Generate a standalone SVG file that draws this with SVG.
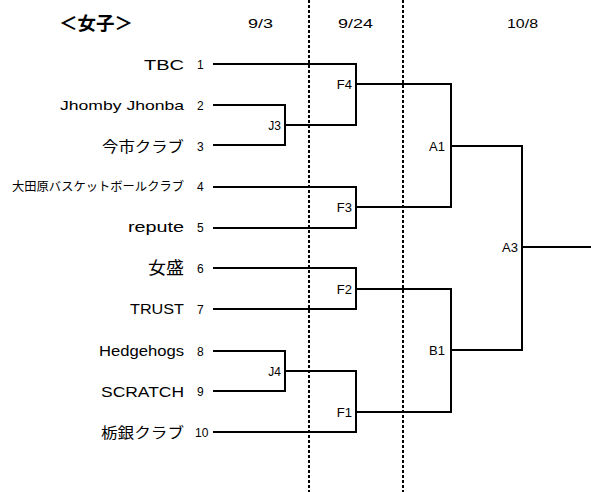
<svg xmlns="http://www.w3.org/2000/svg" width="591" height="492" viewBox="0 0 591 492">
<style>
.ln{fill:none;stroke:#000;stroke-width:2;stroke-linecap:square}
.dash{fill:none;stroke:#000;stroke-width:2;stroke-dasharray:3,2}
.team{font-family:"Liberation Sans","Noto Sans CJK JP",sans-serif;font-size:14px;fill:#000;text-anchor:end}
.jp{font-family:"Noto Sans CJK JP","Liberation Sans",sans-serif;font-size:15px}
.num{font-family:"Liberation Sans",sans-serif;font-size:12px;fill:#000}
.lbl{font-family:"Liberation Sans",sans-serif;font-size:13px;fill:#000;text-anchor:end}
.lbs{font-size:12px}
.date{font-family:"Liberation Sans",sans-serif;font-size:13px;fill:#000}
</style>
<rect width="591" height="492" fill="#fff"/>
<g id="header">
<text x="59" y="30" style="font-family:'Noto Sans CJK JP','Liberation Sans',sans-serif;font-weight:bold;font-size:18px" textLength="74" lengthAdjust="spacingAndGlyphs">＜女子＞</text>
<text class="date" x="248" y="28" textLength="25" lengthAdjust="spacingAndGlyphs">9/3</text>
<text class="date" x="338" y="28" textLength="35" lengthAdjust="spacingAndGlyphs">9/24</text>
<text class="date" x="507" y="28" textLength="31" lengthAdjust="spacingAndGlyphs">10/8</text>
</g>
<g id="dividers">
<line class="dash" x1="309" y1="0" x2="309" y2="492"/>
<line class="dash" x1="403" y1="0" x2="403" y2="492"/>
</g>
<g id="teams">
<g id="team1"><text class="team" x="184" y="70" textLength="40" lengthAdjust="spacingAndGlyphs">TBC</text><text class="num" x="197" y="69">1</text></g>
<g id="team2"><text class="team" x="184" y="110" style="font-size:13px" textLength="124" lengthAdjust="spacingAndGlyphs">Jhomby Jhonba</text><text class="num" x="197" y="110">2</text></g>
<g id="team3"><text class="team jp" x="184" y="152" textLength="82" lengthAdjust="spacingAndGlyphs">今市クラブ</text><text class="num" x="197" y="151">3</text></g>
<g id="team4"><text class="team jp" x="184" y="191" style="font-size:12px" textLength="172" lengthAdjust="spacingAndGlyphs">大田原バスケットボールクラブ</text><text class="num" x="197" y="191">4</text></g>
<g id="team5"><text class="team" x="184" y="232" textLength="56" lengthAdjust="spacingAndGlyphs">repute</text><text class="num" x="197" y="232">5</text></g>
<g id="team6"><text class="team jp" x="184" y="274" style="font-size:17px" textLength="36" lengthAdjust="spacingAndGlyphs">女盛</text><text class="num" x="197" y="273">6</text></g>
<g id="team7"><text class="team" x="184" y="314" textLength="54" lengthAdjust="spacingAndGlyphs">TRUST</text><text class="num" x="197" y="314">7</text></g>
<g id="team8"><text class="team" x="184" y="356" textLength="85" lengthAdjust="spacingAndGlyphs">Hedgehogs</text><text class="num" x="197" y="356">8</text></g>
<g id="team9"><text class="team" x="184" y="397" textLength="83" lengthAdjust="spacingAndGlyphs">SCRATCH</text><text class="num" x="197" y="396">9</text></g>
<g id="team10"><text class="team jp" x="184" y="438" textLength="83" lengthAdjust="spacingAndGlyphs">栃銀クラブ</text><text class="num" x="195" y="437">10</text></g>
</g>
<g id="connectors">
<path class="ln" d="M214,105 H285 V145 H214 M285,125 H356"/>
<path class="ln" d="M214,351 H285 V391 H214 M285,371 H356"/>
<path class="ln" d="M214,64 H356 V125 M356,84 H451"/>
<path class="ln" d="M214,187 H356 V228 H214 M356,207 H451"/>
<path class="ln" d="M214,268 H356 V309 H214 M356,289 H451"/>
<path class="ln" d="M356,371 V432 H214 M356,412 H451"/>
<path class="ln" d="M451,84 V207 M451,146 H522"/>
<path class="ln" d="M451,289 V412 M451,350 H522"/>
<path class="ln" d="M522,146 V350 M522,247 H591"/>
</g>
<g id="labels">
<g id="J3"><text class="lbl lbs" x="281" y="130">J3</text></g>
<g id="J4"><text class="lbl lbs" x="281" y="376">J4</text></g>
<g id="F4"><text class="lbl" x="352" y="89">F4</text></g>
<g id="F3"><text class="lbl" x="352" y="212">F3</text></g>
<g id="F2"><text class="lbl" x="352" y="294">F2</text></g>
<g id="F1"><text class="lbl" x="352" y="417">F1</text></g>
<g id="A1"><text class="lbl" x="445" y="151">A1</text></g>
<g id="B1"><text class="lbl" x="445" y="355">B1</text></g>
<g id="A3"><text class="lbl" x="518" y="252">A3</text></g>
</g>
</svg>
